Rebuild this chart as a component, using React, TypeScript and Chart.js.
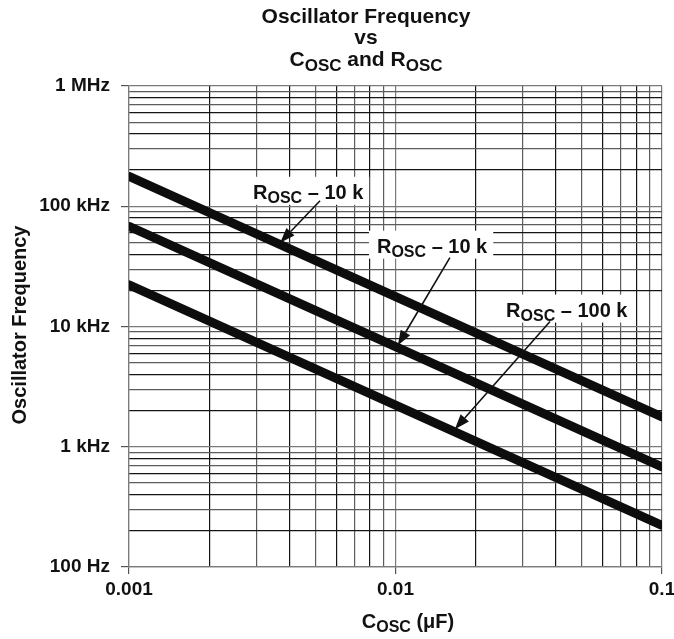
import { useEffect, useRef } from "react"
import { Chart, registerables } from "chart.js"

Chart.register(...registerables)

const FAMILY = "'Liberation Sans', Arial, Helvetica, sans-serif"
const INK = "#111"

// C_OSC (uF) at which each curve is read
const capacitance = [0.001, 0.01, 0.1]
// oscillator frequency (Hz) for the three curves, top to bottom
const freqTop = [177000, 17700, 1770]
const freqMid = [68000, 6800, 681]
const freqLow = [22200, 2220, 222]

const xTickValues = [0.001, 0.01, 0.1]
const xTickLabels = ["0.001", "0.01", "0.1"]
const yTickValues = [100, 1000, 10000, 100000, 1000000]
const yTickLabels = ["100 Hz", "1 kHz", "10 kHz", "100 kHz", "1 MHz"]

// call-outs: text parts [normal, subscript, normal], text anchor, arrow start, arrow tip (data coords)
const noteTexts = [
  ["R", "OSC", " \u2013 10 k"],
  ["R", "OSC", " \u2013 10 k"],
  ["R", "OSC", " \u2013 100 k"],
]
const noteAnchors = [
  [0.00292, 115400],
  [0.00852, 41100],
  [0.026, 12100],
]
const arrowFrom = [
  [0.00521, 111000],
  [0.016, 37400],
  [0.038, 11000],
]
const arrowTo = [
  [0.00369, 49800],
  [0.0102, 6960],
  [0.0167, 1400],
]

const steps = [1, 2, 3, 4, 5, 6, 7, 8, 9]
const gridFrom = (decades: number[]) => {
  const out: number[] = []
  decades.slice(0, -1).forEach((d) => steps.forEach((m) => out.push(+(d * m).toPrecision(6))))
  out.push(decades[decades.length - 1])
  return out
}

const labelFor = (v: number, values: number[], labels: string[]) => {
  const i = values.findIndex((t) => Math.abs(v / t - 1) < 1e-6)
  return i >= 0 ? labels[i] : ""
}

const isDecade = (v: number) => Math.abs(Math.log10(v) - Math.round(Math.log10(v))) < 1e-6

const gridColor = (v: number) => {
  if (isDecade(v)) return "#7a7a7a"
  const m = Math.round(v / Math.pow(10, Math.floor(Math.log10(v) + 1e-9)))
  return m % 2 === 0 ? "#151515" : "#5c5c5c"
}

// draws text with a subscript middle part; returns the total width
function drawRich(ctx: CanvasRenderingContext2D, parts: string[], x: number, y: number, size: number, align: "left" | "center", measureOnly = false) {
  const fonts = parts.map((_, i) => `bold ${i === 1 ? Math.round(size * 0.8) : size}px ${FAMILY}`)
  const widths = parts.map((p, i) => {
    ctx.font = fonts[i]
    return ctx.measureText(p).width
  })
  const total = widths.reduce((a, b) => a + b, 0)
  if (measureOnly) return total
  let cx = align === "center" ? x - total / 2 : x
  ctx.textAlign = "left"
  ctx.textBaseline = "alphabetic"
  parts.forEach((p, i) => {
    ctx.font = fonts[i]
    ctx.fillText(p, cx, i === 1 ? y + Math.round(size * 0.22) : y)
    cx += widths[i]
  })
  return total
}

const notesPlugin = {
  id: "notes",
  beforeDatasetsDraw(chart: any) {
    const { ctx, scales } = chart
    ctx.save()
    noteTexts.forEach((parts, i) => {
      const x = scales.x.getPixelForValue(noteAnchors[i][0])
      const y = scales.y.getPixelForValue(noteAnchors[i][1])
      const w = drawRich(ctx, parts, x, y, 20, "left", true)
      ctx.fillStyle = "#ffffff"
      ctx.fillRect(x - 8, y - 22, w + 14, 28)
    })
    ctx.restore()
  },
  afterDatasetsDraw(chart: any) {
    const { ctx, scales } = chart
    ctx.save()
    ctx.fillStyle = INK
    ctx.strokeStyle = INK
    noteTexts.forEach((parts, i) => {
      const x = scales.x.getPixelForValue(noteAnchors[i][0])
      const y = scales.y.getPixelForValue(noteAnchors[i][1])
      drawRich(ctx, parts, x, y, 20, "left")

      const x0 = scales.x.getPixelForValue(arrowFrom[i][0])
      const y0 = scales.y.getPixelForValue(arrowFrom[i][1])
      const x1 = scales.x.getPixelForValue(arrowTo[i][0])
      const y1 = scales.y.getPixelForValue(arrowTo[i][1])
      const ang = Math.atan2(y1 - y0, x1 - x0)
      const head = 15
      const half = 5.5
      const bx = x1 - head * Math.cos(ang)
      const by = y1 - head * Math.sin(ang)
      ctx.lineWidth = 1.6
      ctx.beginPath()
      ctx.moveTo(x0, y0)
      ctx.lineTo(bx, by)
      ctx.stroke()
      ctx.beginPath()
      ctx.moveTo(x1, y1)
      ctx.lineTo(bx + half * Math.sin(ang), by - half * Math.cos(ang))
      ctx.lineTo(bx - half * Math.sin(ang), by + half * Math.cos(ang))
      ctx.closePath()
      ctx.fill()
    })
    ctx.restore()
  },
  afterDraw(chart: any) {
    const { ctx } = chart
    ctx.save()
    ctx.fillStyle = INK
    ctx.textAlign = "center"
    ctx.textBaseline = "alphabetic"
    ctx.font = `bold 21px ${FAMILY}`
    ctx.fillText("Oscillator Frequency", 366, 23)
    ctx.fillText("vs", 366, 44)
    const a = drawRich(ctx, ["C", "OSC", " and "], 0, 0, 21, "left", true)
    const b = drawRich(ctx, ["R", "OSC", ""], 0, 0, 21, "left", true)
    const start = 366 - (a + b) / 2
    drawRich(ctx, ["C", "OSC", " and "], start, 66, 21, "left")
    drawRich(ctx, ["R", "OSC", ""], start + a, 66, 21, "left")

    // x axis title
    drawRich(ctx, ["C", "OSC", " (\u03bcF)"], 408, 628, 20, "center")

    // y axis title
    ctx.translate(26, 325)
    ctx.rotate(-Math.PI / 2)
    ctx.textAlign = "center"
    ctx.font = `bold 20px ${FAMILY}`
    ctx.fillText("Oscillator Frequency", 0, 0)
    ctx.restore()
  },
}

export default function App() {
  const chartRef = useRef<HTMLCanvasElement | null>(null)
  const chartInstance = useRef<Chart | null>(null)

  useEffect(() => {
    if (!chartRef.current) return
    if (chartInstance.current) chartInstance.current.destroy()

    const curve = (vals: number[]) => ({
      data: capacitance.map((c, i) => ({ x: c, y: vals[i] })),
      borderColor: "#0d0d0d",
      borderWidth: 9,
      borderCapStyle: "round" as const,
      pointRadius: 0,
      tension: 0,
    })

    const xGrid = gridFrom(xTickValues)
    const yGrid = gridFrom(yTickValues)

    chartInstance.current = new Chart(chartRef.current, {
      type: "line",
      data: { datasets: [curve(freqTop), curve(freqMid), curve(freqLow)] },
      options: {
        animation: false,
        responsive: true,
        maintainAspectRatio: false,
        layout: { padding: { top: 86, right: 12, bottom: 0, left: 0 } },
        plugins: { legend: { display: false }, tooltip: { enabled: false }, title: { display: false } },
        scales: {
          x: {
            type: "logarithmic",
            min: 0.001,
            max: 0.1,
            afterBuildTicks: (scale: any) => {
              scale.ticks = xGrid.map((v) => ({ value: v }))
            },
            afterFit: (scale: any) => {
              scale.height = 72
              scale.paddingLeft = 0
              scale.paddingRight = 0
            },
            ticks: {
              autoSkip: false,
              maxRotation: 0,
              padding: 4,
              color: INK,
              font: { family: FAMILY, size: 19, weight: "bold" },
              callback: (v: any) => labelFor(Number(v), xTickValues, xTickLabels),
            },
            grid: {
              color: (c: any) => gridColor(c.tick.value),
              lineWidth: 1.2,
              tickLength: 7,
              tickColor: (c: any) => (isDecade(c.tick.value) ? "#555" : "rgba(0,0,0,0)"),
            },
            border: { color: "#7a7a7a", width: 1.2 },
          },
          y: {
            type: "logarithmic",
            min: 100,
            max: 1000000,
            afterBuildTicks: (scale: any) => {
              scale.ticks = yGrid.map((v) => ({ value: v }))
            },
            afterFit: (scale: any) => {
              scale.width = 129
              scale.paddingTop = 0
              scale.paddingBottom = 0
            },
            ticks: {
              autoSkip: false,
              padding: 11,
              color: INK,
              font: { family: FAMILY, size: 19, weight: "bold" },
              callback: (v: any) => labelFor(Number(v), yTickValues, yTickLabels),
            },
            grid: {
              color: (c: any) => gridColor(c.tick.value),
              lineWidth: 1.2,
              tickLength: 8,
              tickColor: (c: any) => (isDecade(c.tick.value) ? "#555" : "rgba(0,0,0,0)"),
            },
            border: { color: "#7a7a7a", width: 1.2 },
          },
        },
      },
      plugins: [notesPlugin],
    })

    return () => {
      if (chartInstance.current) {
        chartInstance.current.destroy()
        chartInstance.current = null
      }
    }
  }, [])

  return (
    <div style={{ position: "absolute", left: 0, top: 0, width: 674, height: 639, background: "#fff" }}>
      <canvas ref={chartRef}></canvas>
    </div>
  )
}
